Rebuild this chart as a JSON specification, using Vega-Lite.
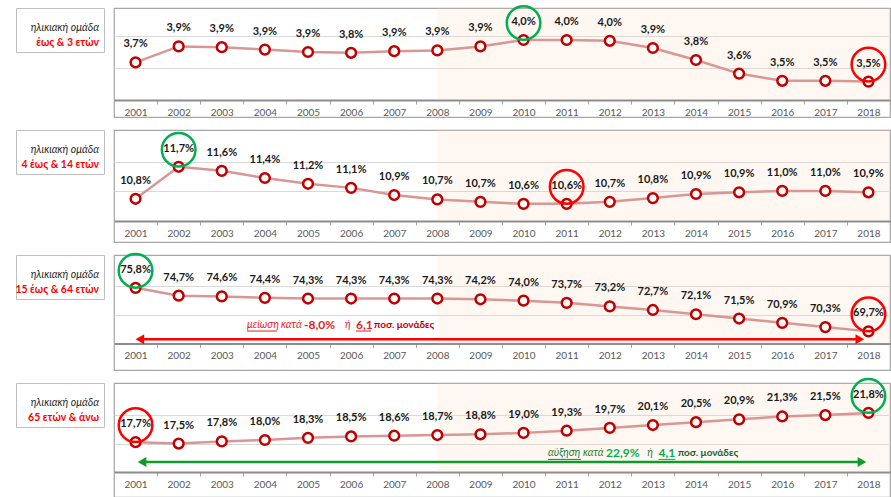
{
  "$schema": "https://vega.github.io/schema/vega-lite/v6.json",
  "background": "white",
  "padding": {"left": 12, "top": 0, "right": 5, "bottom": 5},
  "bounds": "flush",
  "columns": 2,
  "align": "each",
  "spacing": {"row": 13, "column": 10},
  "datasets": {
    "p1": [
      {"year": 2001, "v": 3.72, "t": "3,7%"},
      {"year": 2002, "v": 3.92, "t": "3,9%"},
      {"year": 2003, "v": 3.91, "t": "3,9%"},
      {"year": 2004, "v": 3.88, "t": "3,9%"},
      {"year": 2005, "v": 3.85, "t": "3,9%"},
      {"year": 2006, "v": 3.84, "t": "3,8%"},
      {"year": 2007, "v": 3.86, "t": "3,9%"},
      {"year": 2008, "v": 3.87, "t": "3,9%"},
      {"year": 2009, "v": 3.92, "t": "3,9%"},
      {"year": 2010, "v": 4.0, "t": "4,0%", "hl": "g"},
      {"year": 2011, "v": 4.0, "t": "4,0%"},
      {"year": 2012, "v": 3.99, "t": "4,0%"},
      {"year": 2013, "v": 3.9, "t": "3,9%"},
      {"year": 2014, "v": 3.75, "t": "3,8%"},
      {"year": 2015, "v": 3.58, "t": "3,6%"},
      {"year": 2016, "v": 3.49, "t": "3,5%"},
      {"year": 2017, "v": 3.49, "t": "3,5%"},
      {"year": 2018, "v": 3.48, "t": "3,5%", "hl": "r"}
    ],
    "p2": [
      {"year": 2001, "v": 10.75, "t": "10,8%"},
      {"year": 2002, "v": 11.69, "t": "11,7%", "hl": "g"},
      {"year": 2003, "v": 11.57, "t": "11,6%"},
      {"year": 2004, "v": 11.36, "t": "11,4%"},
      {"year": 2005, "v": 11.19, "t": "11,2%"},
      {"year": 2006, "v": 11.07, "t": "11,1%"},
      {"year": 2007, "v": 10.86, "t": "10,9%"},
      {"year": 2008, "v": 10.73, "t": "10,7%"},
      {"year": 2009, "v": 10.66, "t": "10,7%"},
      {"year": 2010, "v": 10.6, "t": "10,6%"},
      {"year": 2011, "v": 10.6, "t": "10,6%", "hl": "r"},
      {"year": 2012, "v": 10.66, "t": "10,7%"},
      {"year": 2013, "v": 10.77, "t": "10,8%"},
      {"year": 2014, "v": 10.89, "t": "10,9%"},
      {"year": 2015, "v": 10.94, "t": "10,9%"},
      {"year": 2016, "v": 10.98, "t": "11,0%"},
      {"year": 2017, "v": 10.98, "t": "11,0%"},
      {"year": 2018, "v": 10.94, "t": "10,9%"}
    ],
    "p3": [
      {"year": 2001, "v": 75.8, "t": "75,8%", "hl": "g"},
      {"year": 2002, "v": 74.7, "t": "74,7%"},
      {"year": 2003, "v": 74.6, "t": "74,6%"},
      {"year": 2004, "v": 74.4, "t": "74,4%"},
      {"year": 2005, "v": 74.3, "t": "74,3%"},
      {"year": 2006, "v": 74.3, "t": "74,3%"},
      {"year": 2007, "v": 74.3, "t": "74,3%"},
      {"year": 2008, "v": 74.3, "t": "74,3%"},
      {"year": 2009, "v": 74.2, "t": "74,2%"},
      {"year": 2010, "v": 74.0, "t": "74,0%"},
      {"year": 2011, "v": 73.7, "t": "73,7%"},
      {"year": 2012, "v": 73.2, "t": "73,2%"},
      {"year": 2013, "v": 72.7, "t": "72,7%"},
      {"year": 2014, "v": 72.1, "t": "72,1%"},
      {"year": 2015, "v": 71.5, "t": "71,5%"},
      {"year": 2016, "v": 70.9, "t": "70,9%"},
      {"year": 2017, "v": 70.3, "t": "70,3%"},
      {"year": 2018, "v": 69.7, "t": "69,7%", "hl": "r"}
    ],
    "p4": [
      {"year": 2001, "v": 17.7, "t": "17,7%", "hl": "r"},
      {"year": 2002, "v": 17.5, "t": "17,5%"},
      {"year": 2003, "v": 17.8, "t": "17,8%"},
      {"year": 2004, "v": 18.0, "t": "18,0%"},
      {"year": 2005, "v": 18.3, "t": "18,3%"},
      {"year": 2006, "v": 18.5, "t": "18,5%"},
      {"year": 2007, "v": 18.6, "t": "18,6%"},
      {"year": 2008, "v": 18.7, "t": "18,7%"},
      {"year": 2009, "v": 18.8, "t": "18,8%"},
      {"year": 2010, "v": 19.0, "t": "19,0%"},
      {"year": 2011, "v": 19.3, "t": "19,3%"},
      {"year": 2012, "v": 19.7, "t": "19,7%"},
      {"year": 2013, "v": 20.1, "t": "20,1%"},
      {"year": 2014, "v": 20.5, "t": "20,5%"},
      {"year": 2015, "v": 20.9, "t": "20,9%"},
      {"year": 2016, "v": 21.3, "t": "21,3%"},
      {"year": 2017, "v": 21.5, "t": "21,5%"},
      {"year": 2018, "v": 21.8, "t": "21,8%", "hl": "g"}
    ]
  },
  "concat": [
    {
      "width": 88, "height": 44,
      "view": {"fill": "white", "stroke": "#bfbfbf", "strokeWidth": 1},
      "data": {"values": [{}]},
      "mark": {"type": "point", "opacity": 0},
      "encoding": {},
      "title": {"text": "ηλικιακή ομάδα", "subtitle": "έως & 3 ετών"}
    },
    {
      "width": 776, "height": 109,
      "data": {"name": "p1"},
      "layer": [
        {"transform": [{"filter": "datum.year == 2008"}],
         "mark": {"type": "rect", "fill": "#f8cbad", "opacity": 0.16},
         "encoding": {
           "x": {"datum": 2008, "type": "quantitative", "scale": {"domain": [2000.5, 2018.5], "nice": false, "zero": false},
                 "axis": {"values": [2001,2002,2003,2004,2005,2006,2007,2008,2009,2010,2011,2012,2013,2014,2015,2016,2017,2018], "format": "d", "title": null, "offset": -17}},
           "x2": {"datum": 2018.5},
           "y": {"datum": 4.4, "type": "quantitative", "scale": {"domain": [3.0375, 4.4], "nice": false, "zero": false},
                 "axis": {"values": [3.65, 4.05], "title": null}},
           "y2": {"datum": 3.25}}},
        {"mark": {"type": "line", "color": "#d99694", "strokeWidth": 2.5},
         "encoding": {"x": {"field": "year", "type": "quantitative"}, "y": {"field": "v", "type": "quantitative"}}},
        {"mark": {"type": "point", "filled": true, "fill": "white", "stroke": "#c00000", "strokeWidth": 2.5, "size": 95, "opacity": 1},
         "encoding": {"x": {"field": "year", "type": "quantitative"}, "y": {"field": "v", "type": "quantitative"}}},
        {"mark": {"type": "text", "dy": -18, "fontWeight": "bold", "fontSize": 11, "color": "#1a1a1a"},
         "encoding": {"x": {"field": "year", "type": "quantitative"}, "y": {"field": "v", "type": "quantitative"}, "text": {"field": "t"}}},
        {"transform": [{"filter": "isValid(datum.hl)"}],
         "mark": {"type": "point", "shape": "circle", "filled": false, "size": 1130, "strokeWidth": 2.5, "yOffset": -17, "opacity": 1},
         "encoding": {"x": {"field": "year", "type": "quantitative"}, "y": {"field": "v", "type": "quantitative"},
                      "stroke": {"field": "hl", "type": "nominal", "scale": {"domain": ["g", "r"], "range": ["#00b050", "#ff0000"]}, "legend": null}}}
      ]
    },
    {
      "width": 88, "height": 44,
      "view": {"fill": "white", "stroke": "#bfbfbf", "strokeWidth": 1},
      "data": {"values": [{}]},
      "mark": {"type": "point", "opacity": 0},
      "encoding": {},
      "title": {"text": "ηλικιακή ομάδα", "subtitle": "4 έως & 14 ετών"}
    },
    {
      "width": 776, "height": 112,
      "data": {"name": "p2"},
      "layer": [
        {"transform": [{"filter": "datum.year == 2008"}],
         "mark": {"type": "rect", "fill": "#f8cbad", "opacity": 0.16},
         "encoding": {
           "x": {"datum": 2008, "type": "quantitative", "scale": {"domain": [2000.5, 2018.5], "nice": false, "zero": false},
                 "axis": {"values": [2001,2002,2003,2004,2005,2006,2007,2008,2009,2010,2011,2012,2013,2014,2015,2016,2017,2018], "format": "d", "title": null, "offset": -21}},
           "x2": {"datum": 2018.5},
           "y": {"datum": 12.77, "type": "quantitative", "scale": {"domain": [9.48, 12.77], "nice": false, "zero": false},
                 "axis": {"values": [10.99, 11.84], "title": null}},
           "y2": {"datum": 10.097}}},
        {"mark": {"type": "line", "color": "#d99694", "strokeWidth": 2.5},
         "encoding": {"x": {"field": "year", "type": "quantitative"}, "y": {"field": "v", "type": "quantitative"}}},
        {"mark": {"type": "point", "filled": true, "fill": "white", "stroke": "#c00000", "strokeWidth": 2.5, "size": 95, "opacity": 1},
         "encoding": {"x": {"field": "year", "type": "quantitative"}, "y": {"field": "v", "type": "quantitative"}}},
        {"mark": {"type": "text", "dy": -18, "fontWeight": "bold", "fontSize": 11, "color": "#1a1a1a"},
         "encoding": {"x": {"field": "year", "type": "quantitative"}, "y": {"field": "v", "type": "quantitative"}, "text": {"field": "t"}}},
        {"transform": [{"filter": "isValid(datum.hl)"}],
         "mark": {"type": "point", "shape": "circle", "filled": false, "size": 1130, "strokeWidth": 2.5, "yOffset": -17, "opacity": 1},
         "encoding": {"x": {"field": "year", "type": "quantitative"}, "y": {"field": "v", "type": "quantitative"},
                      "stroke": {"field": "hl", "type": "nominal", "scale": {"domain": ["g", "r"], "range": ["#00b050", "#ff0000"]}, "legend": null}}}
      ]
    },
    {
      "width": 88, "height": 44,
      "view": {"fill": "white", "stroke": "#bfbfbf", "strokeWidth": 1},
      "data": {"values": [{}]},
      "mark": {"type": "point", "opacity": 0},
      "encoding": {},
      "title": {"text": "ηλικιακή ομάδα", "subtitle": "15  έως & 64 ετών"}
    },
    {
      "width": 776, "height": 115,
      "data": {"name": "p3"},
      "layer": [
        {"transform": [{"filter": "datum.year == 2008"}],
         "mark": {"type": "rect", "fill": "#f8cbad", "opacity": 0.16},
         "encoding": {
           "x": {"datum": 2008, "type": "quantitative", "scale": {"domain": [2000.5, 2018.5], "nice": false, "zero": false},
                 "axis": {"values": [2001,2002,2003,2004,2005,2006,2007,2008,2009,2010,2011,2012,2013,2014,2015,2016,2017,2018], "format": "d", "title": null, "offset": -26.5}},
           "x2": {"datum": 2018.5},
           "y": {"datum": 80.4, "type": "quantitative", "scale": {"domain": [64.29, 80.4], "nice": false, "zero": false},
                 "axis": {"values": [72, 76], "title": null}},
           "y2": {"datum": 68}}},
        {"mark": {"type": "line", "color": "#d99694", "strokeWidth": 2.5},
         "encoding": {"x": {"field": "year", "type": "quantitative"}, "y": {"field": "v", "type": "quantitative"}}},
        {"mark": {"type": "point", "filled": true, "fill": "white", "stroke": "#c00000", "strokeWidth": 2.5, "size": 95, "opacity": 1},
         "encoding": {"x": {"field": "year", "type": "quantitative"}, "y": {"field": "v", "type": "quantitative"}}},
        {"mark": {"type": "text", "dy": -18, "fontWeight": "bold", "fontSize": 11, "color": "#1a1a1a"},
         "encoding": {"x": {"field": "year", "type": "quantitative"}, "y": {"field": "v", "type": "quantitative"}, "text": {"field": "t"}}},
        {"transform": [{"filter": "isValid(datum.hl)"}],
         "mark": {"type": "point", "shape": "circle", "filled": false, "size": 1130, "strokeWidth": 2.5, "yOffset": -17, "opacity": 1},
         "encoding": {"x": {"field": "year", "type": "quantitative"}, "y": {"field": "v", "type": "quantitative"},
                      "stroke": {"field": "hl", "type": "nominal", "scale": {"domain": ["g", "r"], "range": ["#00b050", "#ff0000"]}, "legend": null}}},
        {"transform": [{"filter": "datum.year == 2001"}], "mark": {"type": "rule", "color": "#ff0000", "strokeWidth": 2.5},
         "encoding": {"x": {"datum": 2001.1, "type": "quantitative"}, "x2": {"datum": 2017.8}, "y": {"datum": 68.6, "type": "quantitative"}}},
        {"transform": [{"filter": "datum.year == 2001"}], "mark": {"type": "point", "shape": "triangle-left", "filled": true, "color": "#ff0000", "size": 100, "opacity": 1},
         "encoding": {"x": {"datum": 2001.1, "type": "quantitative"}, "y": {"datum": 68.6, "type": "quantitative"}}},
        {"transform": [{"filter": "datum.year == 2001"}], "mark": {"type": "point", "shape": "triangle-right", "filled": true, "color": "#ff0000", "size": 100, "opacity": 1},
         "encoding": {"x": {"datum": 2017.8, "type": "quantitative"}, "y": {"datum": 68.6, "type": "quantitative"}}},
        {"transform": [{"filter": "datum.year == 2001"}], "mark": {"type": "text", "align": "left", "baseline": "middle", "fontStyle": "italic", "fontSize": 10.5, "color": "#e81c1c", "text": "μείωση"},
         "encoding": {"x": {"datum": 2003.585, "type": "quantitative"}, "y": {"datum": 70.6, "type": "quantitative"}}},
        {"transform": [{"filter": "datum.year == 2001"}], "mark": {"type": "text", "align": "left", "baseline": "middle", "fontStyle": "italic", "fontSize": 10.5, "color": "#e81c1c", "text": "κατά"},
         "encoding": {"x": {"datum": 2004.374, "type": "quantitative"}, "y": {"datum": 70.6, "type": "quantitative"}}},
        {"transform": [{"filter": "datum.year == 2001"}], "mark": {"type": "text", "align": "left", "baseline": "middle", "fontWeight": "bold", "fontSize": 12, "color": "#e81c1c", "text": "-8,0%"},
         "encoding": {"x": {"datum": 2004.907, "type": "quantitative"}, "y": {"datum": 70.6, "type": "quantitative"}}},
        {"transform": [{"filter": "datum.year == 2001"}], "mark": {"type": "text", "align": "left", "baseline": "middle", "fontStyle": "italic", "fontSize": 10.5, "color": "#e81c1c", "text": "ή"},
         "encoding": {"x": {"datum": 2005.858, "type": "quantitative"}, "y": {"datum": 70.6, "type": "quantitative"}}},
        {"transform": [{"filter": "datum.year == 2001"}], "mark": {"type": "text", "align": "left", "baseline": "middle", "fontWeight": "bold", "fontSize": 12, "color": "#e81c1c", "text": "6,1"},
         "encoding": {"x": {"datum": 2006.114, "type": "quantitative"}, "y": {"datum": 70.6, "type": "quantitative"}}},
        {"transform": [{"filter": "datum.year == 2001"}], "mark": {"type": "text", "align": "left", "baseline": "middle", "fontWeight": "bold", "fontSize": 10, "color": "#c00000", "text": "ποσ. μονάδες"},
         "encoding": {"x": {"datum": 2006.531, "type": "quantitative"}, "y": {"datum": 70.6, "type": "quantitative"}}},
        {"transform": [{"filter": "datum.year == 2001"}], "mark": {"type": "rule", "color": "#e81c1c", "strokeWidth": 1},
         "encoding": {"x": {"datum": 2003.585, "type": "quantitative"}, "x2": {"datum": 2004.28}, "y": {"datum": 69.75, "type": "quantitative"}}},
        {"transform": [{"filter": "datum.year == 2001"}], "mark": {"type": "rule", "color": "#e81c1c", "strokeWidth": 1},
         "encoding": {"x": {"datum": 2006.114, "type": "quantitative"}, "x2": {"datum": 2006.46}, "y": {"datum": 69.75, "type": "quantitative"}}}
      ]
    },
    {
      "width": 88, "height": 44,
      "view": {"fill": "white", "stroke": "#bfbfbf", "strokeWidth": 1},
      "data": {"values": [{}]},
      "mark": {"type": "point", "opacity": 0},
      "encoding": {},
      "title": {"text": "ηλικιακή ομάδα", "subtitle": "65 ετών & άνω"}
    },
    {
      "width": 776, "height": 114,
      "data": {"name": "p4"},
      "layer": [
        {"transform": [{"filter": "datum.year == 2008"}],
         "mark": {"type": "rect", "fill": "#f8cbad", "opacity": 0.16},
         "encoding": {
           "x": {"datum": 2008, "type": "quantitative", "scale": {"domain": [2000.5, 2018.5], "nice": false, "zero": false},
                 "axis": {"values": [2001,2002,2003,2004,2005,2006,2007,2008,2009,2010,2011,2012,2013,2014,2015,2016,2017,2018], "format": "d", "title": null, "offset": -25}},
           "x2": {"datum": 2018.5},
           "y": {"datum": 26, "type": "quantitative", "scale": {"domain": [10, 26], "nice": false, "zero": false},
                 "axis": {"values": [17.5, 21.5], "title": null}},
           "y2": {"datum": 13.5}}},
        {"mark": {"type": "line", "color": "#d99694", "strokeWidth": 2.5},
         "encoding": {"x": {"field": "year", "type": "quantitative"}, "y": {"field": "v", "type": "quantitative"}}},
        {"mark": {"type": "point", "filled": true, "fill": "white", "stroke": "#c00000", "strokeWidth": 2.5, "size": 95, "opacity": 1},
         "encoding": {"x": {"field": "year", "type": "quantitative"}, "y": {"field": "v", "type": "quantitative"}}},
        {"mark": {"type": "text", "dy": -18, "fontWeight": "bold", "fontSize": 11, "color": "#1a1a1a"},
         "encoding": {"x": {"field": "year", "type": "quantitative"}, "y": {"field": "v", "type": "quantitative"}, "text": {"field": "t"}}},
        {"transform": [{"filter": "isValid(datum.hl)"}],
         "mark": {"type": "point", "shape": "circle", "filled": false, "size": 1130, "strokeWidth": 2.5, "yOffset": -17, "opacity": 1},
         "encoding": {"x": {"field": "year", "type": "quantitative"}, "y": {"field": "v", "type": "quantitative"},
                      "stroke": {"field": "hl", "type": "nominal", "scale": {"domain": ["g", "r"], "range": ["#00b050", "#ff0000"]}, "legend": null}}},
        {"transform": [{"filter": "datum.year == 2001"}], "mark": {"type": "rule", "color": "#119b2a", "strokeWidth": 2.5},
         "encoding": {"x": {"datum": 2001.15, "type": "quantitative"}, "x2": {"datum": 2017.85}, "y": {"datum": 14.9, "type": "quantitative"}}},
        {"transform": [{"filter": "datum.year == 2001"}], "mark": {"type": "point", "shape": "triangle-left", "filled": true, "color": "#119b2a", "size": 100, "opacity": 1},
         "encoding": {"x": {"datum": 2001.15, "type": "quantitative"}, "y": {"datum": 14.9, "type": "quantitative"}}},
        {"transform": [{"filter": "datum.year == 2001"}], "mark": {"type": "point", "shape": "triangle-right", "filled": true, "color": "#119b2a", "size": 100, "opacity": 1},
         "encoding": {"x": {"datum": 2017.85, "type": "quantitative"}, "y": {"datum": 14.9, "type": "quantitative"}}},
        {"transform": [{"filter": "datum.year == 2001"}], "mark": {"type": "text", "align": "left", "baseline": "middle", "fontStyle": "italic", "fontSize": 10.5, "color": "#1f7a3a", "text": "αύξηση"},
         "encoding": {"x": {"datum": 2010.567, "type": "quantitative"}, "y": {"datum": 16.18, "type": "quantitative"}}},
        {"transform": [{"filter": "datum.year == 2001"}], "mark": {"type": "text", "align": "left", "baseline": "middle", "fontStyle": "italic", "fontSize": 10.5, "color": "#1f7a3a", "text": "κατά"},
         "encoding": {"x": {"datum": 2011.379, "type": "quantitative"}, "y": {"datum": 16.18, "type": "quantitative"}}},
        {"transform": [{"filter": "datum.year == 2001"}], "mark": {"type": "text", "align": "left", "baseline": "middle", "fontWeight": "bold", "fontSize": 12, "color": "#00b050", "text": "22,9%"},
         "encoding": {"x": {"datum": 2011.913, "type": "quantitative"}, "y": {"datum": 16.18, "type": "quantitative"}}},
        {"transform": [{"filter": "datum.year == 2001"}], "mark": {"type": "text", "align": "left", "baseline": "middle", "fontStyle": "italic", "fontSize": 10.5, "color": "#1f7a3a", "text": "ή"},
         "encoding": {"x": {"datum": 2012.87, "type": "quantitative"}, "y": {"datum": 16.18, "type": "quantitative"}}},
        {"transform": [{"filter": "datum.year == 2001"}], "mark": {"type": "text", "align": "left", "baseline": "middle", "fontWeight": "bold", "fontSize": 12, "color": "#00b050", "text": "4,1"},
         "encoding": {"x": {"datum": 2013.13, "type": "quantitative"}, "y": {"datum": 16.18, "type": "quantitative"}}},
        {"transform": [{"filter": "datum.year == 2001"}], "mark": {"type": "text", "align": "left", "baseline": "middle", "fontWeight": "bold", "fontSize": 10, "color": "#17612e", "text": "ποσ. μονάδες"},
         "encoding": {"x": {"datum": 2013.58, "type": "quantitative"}, "y": {"datum": 16.18, "type": "quantitative"}}},
        {"transform": [{"filter": "datum.year == 2001"}], "mark": {"type": "rule", "color": "#1f7a3a", "strokeWidth": 1},
         "encoding": {"x": {"datum": 2010.567, "type": "quantitative"}, "x2": {"datum": 2011.33}, "y": {"datum": 15.28, "type": "quantitative"}}},
        {"transform": [{"filter": "datum.year == 2001"}], "mark": {"type": "rule", "color": "#00b050", "strokeWidth": 1},
         "encoding": {"x": {"datum": 2013.13, "type": "quantitative"}, "x2": {"datum": 2013.52}, "y": {"datum": 15.28, "type": "quantitative"}}}
      ]
    }
  ],
  "config": {
    "font": "Lato",
    "view": {"stroke": "#a6a6a6", "strokeWidth": 1.2, "fill": "white"},
    "text": {"font": "Lato"},
    "axisX": {"grid": false, "domainColor": "#8c8c8c", "domainWidth": 2, "tickColor": "#a6a6a6", "tickSize": 4, "tickWidth": 1,
              "tickOffset": 21.56, "labelOffset": -21.56, "labelColor": "#595959", "labelFont": "Lato", "labelFontSize": 10,
              "labelPadding": 3, "labelFlush": false, "labelOverlap": false},
    "axisY": {"labels": false, "ticks": false, "domain": false, "grid": true, "gridColor": "#d9d9d9", "gridWidth": 1},
    "title": {"anchor": "end", "orient": "top", "offset": -40, "dx": -5, "font": "Lato", "fontSize": 10.5, "fontStyle": "italic",
              "fontWeight": "normal", "color": "#262626", "subtitleFont": "Lato", "subtitleFontSize": 10.5,
              "subtitleFontWeight": "bold", "subtitleColor": "#ff0000", "subtitlePadding": 4}
  }
}
